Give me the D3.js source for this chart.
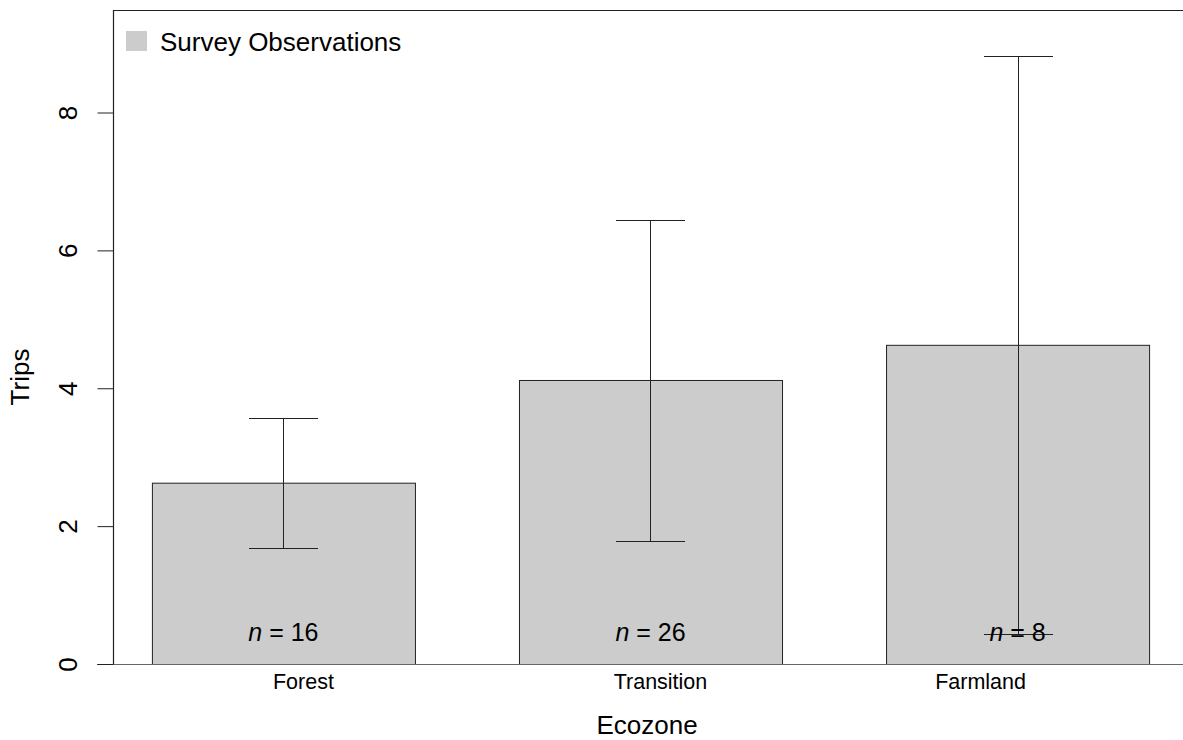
<!DOCTYPE html>
<html>
<head>
<meta charset="utf-8">
<script src="https://cdn.jsdelivr.net/npm/d3@7"></script>
<style>
  html, body { margin: 0; padding: 0; background: #fff; }
  svg { display: block; font-family: "Liberation Sans", Arial, sans-serif; }
</style>
</head>
<body>
<svg id="chart" width="1183" height="740"></svg>
<script>
// Mean trips per ecozone with upper/lower error limits and sample sizes
const categories = ["Forest", "Transition", "Farmland"];
const means = [2.63, 4.12, 4.63];
const upper = [3.57, 6.44, 8.82];
const lower = [1.68, 1.78, 0.43];
const sampleSizes = [16, 26, 8];
const yTicks = [0, 2, 4, 6, 8];
const legendLabel = "Survey Observations";

const svg = d3.select("#chart");
const W = 1183, H = 740;
const plot = { left: 113, top: 10, bottom: 664, right: 1188 };
// the category axis labels sit slightly off the bar centres
const labelShift = { Forest: 20, Transition: 10, Farmland: -37 };

const y = d3.scaleLinear().domain([0, 8]).range([plot.bottom, 112.5]);
const x = d3.scaleBand()
  .domain(categories)
  .range([plot.left, plot.right])
  .paddingInner(0.2834)
  .paddingOuter(0.106);

const data = categories.map((c, i) => ({
  cat: c, mean: means[i], hi: upper[i], lo: lower[i], n: sampleSizes[i]
}));

// bars
svg.append("g").selectAll("rect").data(data).join("rect")
  .attr("x", d => x(d.cat) + 0.5)
  .attr("y", d => y(d.mean) + 0.5)
  .attr("width", x.bandwidth())
  .attr("height", d => y(0) - y(d.mean))
  .attr("fill", "#cccccc")
  .attr("stroke", "#222")
  .attr("stroke-width", 1);

// error bars
const capHalf = 34.5;
const eb = svg.append("g").attr("stroke", "#222").attr("stroke-width", 1);
data.forEach(d => {
  const cx = Math.round(x(d.cat) + x.bandwidth() / 2) + 0.5;
  eb.append("line").attr("x1", cx).attr("x2", cx)
    .attr("y1", y(d.hi)).attr("y2", y(d.lo));
  eb.append("line").attr("x1", cx - capHalf).attr("x2", cx + capHalf)
    .attr("y1", Math.round(y(d.hi)) + 0.5).attr("y2", Math.round(y(d.hi)) + 0.5);
  eb.append("line").attr("x1", cx - capHalf).attr("x2", cx + capHalf)
    .attr("y1", Math.round(y(d.lo)) + 0.5).attr("y2", Math.round(y(d.lo)) + 0.5);
});

// sample size labels
const nl = svg.append("g").selectAll("text").data(data).join("text")
  .attr("x", d => x(d.cat) + x.bandwidth() / 2)
  .attr("y", 641)
  .attr("text-anchor", "middle")
  .attr("font-size", 25)
  .attr("fill", "#000");
nl.append("tspan").attr("font-style", "italic").text("n");
nl.append("tspan").text(d => " = " + d.n);

// frame: top line, left axis, baseline
svg.append("line").attr("x1", plot.left).attr("x2", W)
  .attr("y1", plot.top + 0.5).attr("y2", plot.top + 0.5)
  .attr("stroke", "#222").attr("stroke-width", 1.2);
svg.append("line").attr("x1", plot.left + 0.5).attr("x2", plot.left + 0.5)
  .attr("y1", plot.top).attr("y2", plot.bottom)
  .attr("stroke", "#222").attr("stroke-width", 1.2);
svg.append("line").attr("x1", 97).attr("x2", W)
  .attr("y1", plot.bottom + 0.5).attr("y2", plot.bottom + 0.5)
  .attr("stroke", "#666").attr("stroke-width", 1);

// y axis ticks and rotated labels
const yAxis = svg.append("g")
  .attr("transform", `translate(${plot.left + 0.5},0)`)
  .call(d3.axisLeft(y).tickValues(yTicks).tickSize(16).tickSizeOuter(0).tickFormat(d3.format("d")));
yAxis.select(".domain").remove();
yAxis.selectAll(".tick line").attr("stroke", "#222");
yAxis.selectAll(".tick text")
  .attr("font-size", 26)
  .attr("font-family", "Liberation Sans, Arial, sans-serif")
  .attr("fill", "#000")
  .attr("x", 0).attr("dy", 0)
  .attr("text-anchor", "middle")
  .attr("transform", "translate(-37,0) rotate(-90)");

// x category labels
svg.append("g").selectAll("text").data(categories).join("text")
  .attr("x", d => x(d) + x.bandwidth() / 2 + labelShift[d])
  .attr("y", 689)
  .attr("text-anchor", "middle")
  .attr("font-size", 21.5)
  .attr("fill", "#000")
  .text(d => d);

// axis titles
svg.append("text")
  .attr("x", 647).attr("y", 734)
  .attr("text-anchor", "middle")
  .attr("font-size", 26)
  .text("Ecozone");
svg.append("text")
  .attr("transform", "translate(29,377) rotate(-90)")
  .attr("text-anchor", "middle")
  .attr("font-size", 26)
  .text("Trips");

// legend
svg.append("rect").attr("x", 126).attr("y", 31).attr("width", 21).attr("height", 20)
  .attr("fill", "#cccccc");
svg.append("text").attr("x", 160).attr("y", 51)
  .attr("font-size", 26).attr("fill", "#000")
  .text(legendLabel);
</script>
</body>
</html>
